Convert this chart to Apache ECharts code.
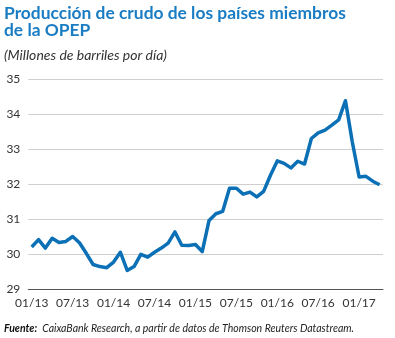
<!DOCTYPE html>
<html>
<head>
<meta charset="utf-8">
<script src="https://cdn.jsdelivr.net/npm/echarts@6/dist/echarts.min.js"></script>
<style>
html,body{margin:0;padding:0;background:#fff;}
#c{width:395px;height:338px;}
</style>
</head>
<body>
<div id="c"></div>
<script>
// Monthly categories 01/13 .. 04/17
const categories = [
  '01/13','02/13','03/13','04/13','05/13','06/13','07/13','08/13','09/13','10/13','11/13','12/13',
  '01/14','02/14','03/14','04/14','05/14','06/14','07/14','08/14','09/14','10/14','11/14','12/14',
  '01/15','02/15','03/15','04/15','05/15','06/15','07/15','08/15','09/15','10/15','11/15','12/15',
  '01/16','02/16','03/16','04/16','05/16','06/16','07/16','08/16','09/16','10/16','11/16','12/16',
  '01/17','02/17','03/17','04/17'
];
// OPEC crude production (million barrels per day)
const production = [
  30.20, 30.41, 30.17, 30.45, 30.33, 30.36, 30.50, 30.32, 30.02, 29.70, 29.64, 29.61,
  29.77, 30.05, 29.53, 29.64, 29.99, 29.91, 30.05, 30.17, 30.31, 30.63, 30.25, 30.24,
  30.27, 30.07, 30.96, 31.15, 31.22, 31.88, 31.88, 31.71, 31.77, 31.63, 31.79, 32.25,
  32.66, 32.59, 32.46, 32.65, 32.57, 33.30, 33.46, 33.54, 33.68, 33.83, 34.38, 33.20,
  32.20, 32.22, 32.08, 31.98
];
const yTicks = [29, 30, 31, 32, 33, 34, 35];

const chart = echarts.init(document.getElementById('c'), null, {renderer: 'canvas'});
chart.setOption({
  animation: false,
  backgroundColor: '#fff',
  title: [
    {
      text: 'Producción de crudo de los países miembros\nde la OPEP',
      left: 4, top: 5, padding: 0,
      textStyle: {fontFamily: 'Lato', fontWeight: 'bold', fontSize: 17.4, lineHeight: 17, color: '#1a7dc3'}
    },
    {
      text: '(Millones de barriles por día)',
      left: 4, top: 48, padding: 0,
      textStyle: {fontFamily: 'Lato', fontStyle: 'italic', fontWeight: 'normal', fontSize: 14, color: '#333'}
    },
    {
      text: '{b|Fuente:} {n|CaixaBank Research, a partir de datos de Thomson Reuters Datastream.}',
      left: 4, top: 320, padding: 0,
      textStyle: {
        rich: {
          b: {fontFamily: 'Lato', fontStyle: 'italic', fontWeight: 'bold', fontSize: 10.5, color: '#111'},
          n: {fontFamily: 'Lato', fontStyle: 'italic', fontWeight: 'normal', fontSize: 10.5, color: '#222'}
        }
      }
    }
  ],
  grid: {left: 28.3, right: 12, top: 79, bottom: 49},
  xAxis: {
    type: 'category',
    data: categories,
    boundaryGap: true,
    axisLine: {lineStyle: {color: '#555', width: 1}},
    axisTick: {inside: true, length: 4, interval: 5, lineStyle: {color: '#555'}},
    axisLabel: {interval: 5, color: '#333', fontFamily: 'Lato', fontSize: 12, margin: 8}
  },
  yAxis: {
    type: 'value',
    min: yTicks[0], max: yTicks[yTicks.length - 1], interval: 1,
    axisLine: {show: false},
    axisTick: {show: false},
    axisLabel: {color: '#333', fontFamily: 'Lato', fontSize: 12, margin: 8},
    splitLine: {lineStyle: {color: '#cfcfcf', width: 1}}
  },
  series: [{
    type: 'line',
    data: production,
    symbol: 'none',
    lineStyle: {color: '#0b70b6', width: 3.5, join: 'round'},
    itemStyle: {color: '#0b70b6'}
  }]
});
</script>
</body>
</html>
